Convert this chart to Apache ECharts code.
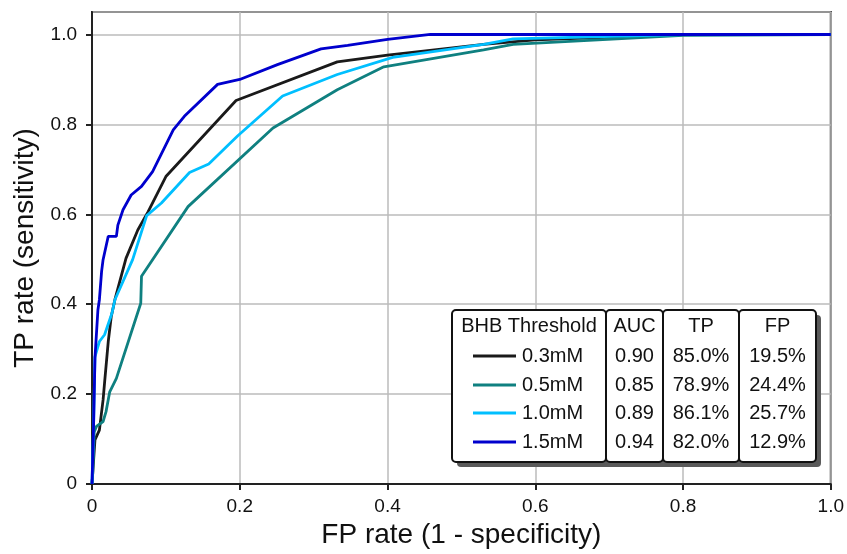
<!DOCTYPE html>
<html>
<head>
<meta charset="utf-8">
<script src="https://cdn.jsdelivr.net/npm/echarts@6/dist/echarts.min.js"></script>
<style>
html,body{margin:0;padding:0;background:#fff;}
#chart{width:847px;height:554px;}
</style>
</head>
<body>
<div id="chart"></div>
<script>
// ---- data ----
const seriesNames = ['0.3mM', '0.5mM', '1.0mM', '1.5mM'];
const roc03 = [[0,0],[0.004,0.098],[0.010,0.12],[0.015,0.187],[0.017,0.225],[0.022,0.317],[0.026,0.372],[0.031,0.41],[0.046,0.502],[0.062,0.565],[0.076,0.606],[0.100,0.684],[0.195,0.853],[0.332,0.939],[0.400,0.954],[0.53,0.978],[0.6,0.988],[0.8,1.0],[1,1]];
const roc05 = [[0,0],[0.001,0.024],[0.003,0.116],[0.006,0.128],[0.015,0.139],[0.019,0.161],[0.024,0.205],[0.033,0.235],[0.066,0.402],[0.067,0.462],[0.130,0.617],[0.245,0.792],[0.332,0.877],[0.395,0.928],[0.53,0.966],[0.57,0.978],[0.8,0.998],[1,1]];
const roc10 = [[0,0],[0.002,0.12],[0.004,0.283],[0.010,0.317],[0.017,0.332],[0.027,0.38],[0.031,0.41],[0.055,0.499],[0.074,0.597],[0.094,0.625],[0.132,0.693],[0.158,0.712],[0.197,0.774],[0.258,0.863],[0.332,0.911],[0.407,0.949],[0.53,0.978],[0.57,0.99],[0.8,1.0],[1,1]];
const roc15 = [[0,0],[0.002,0.12],[0.004,0.28],[0.008,0.387],[0.010,0.41],[0.013,0.473],[0.015,0.499],[0.022,0.551],[0.033,0.551],[0.035,0.576],[0.042,0.61],[0.053,0.643],[0.067,0.662],[0.082,0.695],[0.110,0.788],[0.125,0.818],[0.170,0.889],[0.200,0.900],[0.251,0.933],[0.310,0.968],[0.346,0.976],[0.400,0.989],[0.458,1.0],[1,1]];
const aucVals = ['0.90', '0.85', '0.89', '0.94'];
const tpVals = ['85.0%', '78.9%', '86.1%', '82.0%'];
const fpVals = ['19.5%', '24.4%', '25.7%', '12.9%'];
const tableHeaders = ['BHB Threshold', 'AUC', 'TP', 'FP'];
const xTicks = [0, 0.2, 0.4, 0.6, 0.8, 1.0];
const yTicks = [0, 0.2, 0.4, 0.6, 0.8, 1.0];

// ---- styles ----
const colors = ['#1a1a1a', '#0f8080', '#00bfff', '#0000cd'];
const FONT = '"Liberation Sans", Arial, Helvetica, sans-serif';
const allData = [roc03, roc05, roc10, roc15];

const fmt = v => (Math.abs(v) < 1e-9 ? '0' : (v > 1.001 ? '' : v.toFixed(1)));

const chart = echarts.init(document.getElementById('chart'), null, {renderer: 'canvas'});

// table geometry
const tTop = 310, tBot = 462;
const colX = [452, 606, 663, 739, 816];
const rowY = [326, 356, 385, 413, 442];
const graphics = [];
// shadow
graphics.push({type:'rect', shape:{x:colX[0]+5, y:tTop+5, width:colX[4]-colX[0], height:tBot-tTop, r:4}, style:{fill:'#5a5a5a'}, z:100});
for (let c = 0; c < 4; c++) {
  graphics.push({type:'rect', shape:{x:colX[c], y:tTop, width:colX[c+1]-colX[c], height:tBot-tTop, r:4},
    style:{fill:'#fff', stroke:'#111', lineWidth:2}, z:101});
}
const textStyle = (x, y, t, align) => ({type:'text', x:x, y:y, z:102,
  style:{text:t, fill:'#111', font:'20px ' + FONT, textAlign:align, textVerticalAlign:'middle'}});
// headers
graphics.push(textStyle((colX[0]+colX[1])/2, rowY[0], tableHeaders[0], 'center'));
for (let c = 1; c < 4; c++) graphics.push(textStyle((colX[c]+colX[c+1])/2, rowY[0], tableHeaders[c], 'center'));
for (let i = 0; i < 4; i++) {
  const y = rowY[i+1];
  graphics.push({type:'line', z:102, shape:{x1:473, y1:y, x2:516, y2:y}, style:{stroke:colors[i], lineWidth:3}});
  graphics.push(textStyle(522, y, seriesNames[i], 'left'));
  graphics.push(textStyle((colX[1]+colX[2])/2, y, aucVals[i], 'center'));
  graphics.push(textStyle((colX[2]+colX[3])/2, y, tpVals[i], 'center'));
  graphics.push(textStyle((colX[3]+colX[4])/2, y, fpVals[i], 'center'));
}

const option = {
  animation: false,
  backgroundColor: '#fff',
  grid: {left: 92, right: 14, top: 12, bottom: 70, show: true, borderColor: '#222', borderWidth: 2, backgroundColor: 'transparent'},
  xAxis: {
    type: 'value', min: 0, max: 1, interval: 0.2,
    name: 'FP rate (1 - specificity)', nameLocation: 'middle', nameGap: 34,
    nameTextStyle: {fontSize: 28, color: '#111', fontFamily: FONT},
    axisLine: {show: true, lineStyle: {color: '#222', width: 2}},
    axisTick: {show: true, length: 6, lineStyle: {color: '#222', width: 2}},
    axisLabel: {fontSize: 19, color: '#111', fontFamily: FONT, margin: 13, formatter: fmt},
    splitLine: {show: true, lineStyle: {color: '#bbbbbb', width: 1.5}}
  },
  yAxis: {
    type: 'value', min: 0, max: 1.05, interval: 0.2,
    name: 'TP rate (sensitivity)', nameLocation: 'middle', nameGap: 45, nameRotate: 90,
    nameTextStyle: {fontSize: 28, color: '#111', fontFamily: FONT},
    axisLine: {show: true, lineStyle: {color: '#222', width: 2}},
    axisTick: {show: true, length: 6, lineStyle: {color: '#222', width: 2}},
    axisLabel: {fontSize: 19, color: '#111', fontFamily: FONT, margin: 15, formatter: fmt, showMaxLabel: false},
    splitLine: {show: true, lineStyle: {color: '#bbbbbb', width: 1.5}}
  },
  series: allData.map((d, i) => ({
    name: seriesNames[i], type: 'line', data: d, showSymbol: false, symbol: 'none',
    lineStyle: {color: colors[i], width: 2.8}, itemStyle: {color: colors[i]}, z: 10 + i, clip: true
  })),
  graphic: graphics
};
chart.setOption(option);
</script>
</body>
</html>
